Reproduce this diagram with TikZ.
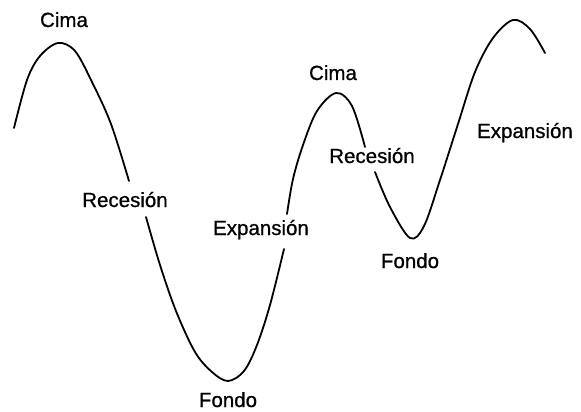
\documentclass[tikz,border=0pt]{standalone}
\usepackage{fontspec}
\setmainfont[FakeBold=0.7]{Liberation Sans}
\begin{document}
\begin{tikzpicture}[x=1pt,y=-1pt,
  lbl/.style={anchor=base,inner sep=0pt,font=\fontsize{20.5}{24}\selectfont},
  wave/.style={line width=1.8pt,line cap=round,line join=round}]
\useasboundingbox[fill=white] (0,0) rectangle (581,412);
% labels
\node[lbl] (cima1) at (64,27) {Cima};
\node[lbl] (rec1) at (125,207) {Recesión};
\node[lbl] (exp1) at (261,235) {Expansión};
\node[lbl] (fondo1) at (228,407) {Fondo};
\node[lbl] (cima2) at (333,80) {Cima};
\node[lbl] (rec2) at (372,163) {Recesión};
\node[lbl] (fondo2) at (410,268) {Fondo};
\node[lbl] (exp2) at (525,138) {Expansión};
% wave segments
\draw[wave] plot[smooth,tension=0.55] coordinates {(14,128) (27,80) (40,56) (58,43) (75,51) (92,82) (111,124) (129,181)};
\draw[wave] plot[smooth,tension=0.55] coordinates {(146,217) (160,265) (176,311) (195,352) (212,372) (228,381) (244,371) (257,345) (270,305) (284,249)};
\draw[wave] plot[smooth,tension=0.55] coordinates {(287,214) (293,179) (303,145) (317,111) (336,93) (352,106) (365,147)};
\draw[wave] plot[smooth,tension=0.55] coordinates {(375,172) (390,207) (410,238) (424,226) (440,180) (458,124) (475,72) (493,38) (513,20) (530,29) (545,53)};
\end{tikzpicture}
\end{document}
